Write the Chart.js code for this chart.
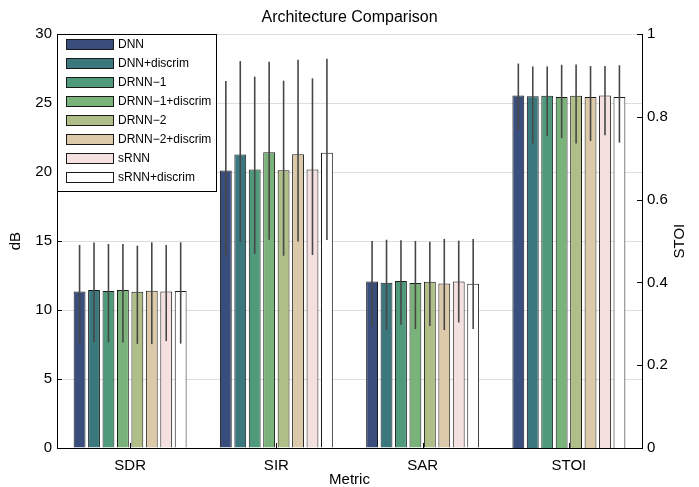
<!DOCTYPE html>
<html lang="en">
<head>
<meta charset="UTF-8">
<title>Architecture Comparison</title>
<script src="https://cdn.jsdelivr.net/npm/chart.js@4.4.1/dist/chart.umd.min.js"></script>
<style>
  html, body { margin: 0; padding: 0; background: #fff; }
  #chart { display: block; }
</style>
</head>
<body>
<canvas id="chart" width="699" height="487"></canvas>
<script>
'use strict';

// ----------------------------------------------------------------
// Data
// ----------------------------------------------------------------
const categories = ['SDR', 'SIR', 'SAR', 'STOI'];
const series = ['DNN', 'DNN+discrim', 'DRNN−1', 'DRNN−1+discrim',
                'DRNN−2', 'DRNN−2+discrim', 'sRNN', 'sRNN+discrim'];
const seriesColors = ['#394e7c', '#3b787e', '#4e9a7b', '#7ab37a',
                      '#afbf87', '#dbc9a9', '#f4e0de', '#ffffff'];

const dbTicks = [0, 5, 10, 15, 20, 25, 30];
const stoiTicks = [0, 0.2, 0.4, 0.6, 0.8, 1];
const stoiTickLabels = ['0', '0.2', '0.4', '0.6', '0.8', '1'];

// one value per series, in the order of `series`
const sdrMean = [11.35, 11.45, 11.38, 11.45, 11.33, 11.40, 11.35, 11.38];
const sdrLo   = [7.60, 7.65, 7.65, 7.65, 7.55, 7.53, 7.75, 7.57];
const sdrHi   = [14.72, 14.89, 14.79, 14.79, 14.67, 14.91, 14.72, 14.91];

const sirMean = [20.12, 21.28, 20.19, 21.45, 20.14, 21.30, 20.19, 21.40];
const sirLo   = [13.89, 14.94, 14.07, 15.10, 13.94, 14.98, 13.99, 15.08];
const sirHi   = [26.60, 28.05, 26.92, 28.00, 26.63, 28.15, 26.80, 28.22];

const sarMean = [12.08, 11.98, 12.10, 11.96, 12.06, 11.93, 12.08, 11.91];
const sarLo   = [8.81, 8.57, 8.93, 8.62, 8.84, 8.55, 9.10, 8.62];
const sarHi   = [15.01, 15.10, 15.06, 15.01, 14.96, 15.16, 15.03, 15.16];

const stoiMean = [0.852, 0.850, 0.851, 0.848, 0.851, 0.848, 0.852, 0.848];
const stoiLo   = [0.768, 0.736, 0.754, 0.749, 0.736, 0.742, 0.756, 0.738];
const stoiHi   = [0.929, 0.922, 0.922, 0.926, 0.927, 0.923, 0.923, 0.925];

const FONT = '"Liberation Sans", Arial, Helvetica, sans-serif';

// ----------------------------------------------------------------
// Datasets: dB metrics on the left axis, STOI on the right one.
// Both halves of a series share a stack so they share one slot.
// ----------------------------------------------------------------
const datasets = [];
series.forEach((name, i) => {
  const common = {
    label: name,
    stack: 's' + i,
    backgroundColor: seriesColors[i],
    borderColor: '#1a1a1a',
    borderWidth: ctx => (ctx.raw == null ? 0 : 1),
    borderSkipped: 'start',
    categoryPercentage: 0.79,
    barPercentage: 0.82
  };
  datasets.push(Object.assign({}, common, {
    yAxisID: 'y',
    data: [sdrMean[i], sirMean[i], sarMean[i], null],
    errLo: [sdrLo[i], sirLo[i], sarLo[i], null],
    errHi: [sdrHi[i], sirHi[i], sarHi[i], null]
  }));
  datasets.push(Object.assign({}, common, {
    yAxisID: 'y1',
    data: [null, null, null, stoiMean[i]],
    errLo: [null, null, null, stoiLo[i]],
    errHi: [null, null, null, stoiHi[i]]
  }));
});

// ----------------------------------------------------------------
// Plugins
// ----------------------------------------------------------------
const errorBars = {
  id: 'errorBars',
  afterDatasetsDraw(chart) {
    const { ctx } = chart;
    ctx.save();
    ctx.strokeStyle = '#474747';
    ctx.lineWidth = 1.6;
    chart.data.datasets.forEach((ds, d) => {
      const meta = chart.getDatasetMeta(d);
      const scale = chart.scales[ds.yAxisID];
      meta.data.forEach((el, j) => {
        if (ds.data[j] == null) return;
        const x = el.x;
        ctx.beginPath();
        ctx.moveTo(x, scale.getPixelForValue(ds.errLo[j]));
        ctx.lineTo(x, scale.getPixelForValue(ds.errHi[j]));
        ctx.stroke();
      });
    });
    ctx.restore();
  }
};

const innerTicks = {
  id: 'innerTicks',
  afterDraw(chart) {
    const { ctx, chartArea: a, scales } = chart;
    ctx.save();
    ctx.strokeStyle = '#000';
    ctx.lineWidth = 1;
    ctx.beginPath();
    scales.y.ticks.forEach(t => {
      const py = Math.round(scales.y.getPixelForValue(t.value)) + 0.5;
      ctx.moveTo(a.left, py); ctx.lineTo(a.left + 5, py);
    });
    scales.y1.ticks.forEach(t => {
      const py = Math.round(scales.y1.getPixelForValue(t.value)) + 0.5;
      ctx.moveTo(a.right - 5, py); ctx.lineTo(a.right, py);
    });
    categories.forEach((c, i) => {
      const px = Math.round(scales.x.getPixelForValue(i)) + 0.5;
      ctx.moveTo(px, a.bottom); ctx.lineTo(px, a.bottom - 5);
    });
    ctx.stroke();

    // right axis title, reading bottom to top
    ctx.fillStyle = '#000';
    ctx.font = '15px ' + FONT;
    ctx.textAlign = 'center';
    ctx.textBaseline = 'middle';
    ctx.translate(680, (a.top + a.bottom) / 2);
    ctx.rotate(-Math.PI / 2);
    ctx.fillText('STOI', 0, 0);
    ctx.restore();
  }
};

const legendBox = {
  id: 'legendBox',
  afterDraw(chart) {
    const { ctx, chartArea: a } = chart;
    const x0 = Math.round(a.left), y0 = Math.round(a.top);
    ctx.save();
    ctx.fillStyle = '#fff';
    ctx.fillRect(x0, y0, 159, 157);
    ctx.strokeStyle = '#000';
    ctx.lineWidth = 1;
    ctx.strokeRect(x0 + 0.5, y0 + 0.5, 159, 157);
    ctx.font = '12px ' + FONT;
    ctx.textBaseline = 'middle';
    series.forEach((name, i) => {
      const sy = y0 + 5 + i * 19;
      ctx.fillStyle = seriesColors[i];
      ctx.fillRect(x0 + 9, sy, 47, 10);
      ctx.strokeStyle = '#1a1a1a';
      ctx.strokeRect(x0 + 9.5, sy + 0.5, 47, 10);
      ctx.fillStyle = '#000';
      ctx.fillText(name, x0 + 61, sy + 6);
    });
    ctx.restore();
  }
};

// ----------------------------------------------------------------
// Chart
// ----------------------------------------------------------------
new Chart(document.getElementById('chart'), {
  type: 'bar',
  data: { labels: categories, datasets },
  options: {
    responsive: false,
    animation: false,
    devicePixelRatio: 1,
    layout: { padding: 0 },
    plugins: {
      legend: { display: false },
      tooltip: { enabled: false },
      title: {
        display: true,
        text: 'Architecture Comparison',
        color: '#000',
        font: { family: FONT, size: 16, weight: 'normal' },
        padding: { top: 8, bottom: 7 }
      }
    },
    scales: {
      x: {
        grid: { display: false, drawTicks: false },
        border: { color: '#000', width: 1 },
        ticks: { color: '#000', font: { family: FONT, size: 15 }, padding: 9 },
        title: {
          display: true, text: 'Metric', color: '#000',
          font: { family: FONT, size: 15, lineHeight: 1 },
          padding: { top: 0, bottom: 0 }
        },
        afterFit: s => { s.height = 39; }
      },
      y: {
        position: 'left',
        stacked: false,
        min: 0, max: 30,
        afterBuildTicks: s => { s.ticks = dbTicks.map(v => ({ value: v })); },
        grid: { color: '#dedede', lineWidth: 1, drawTicks: false },
        border: { color: '#000', width: 1 },
        ticks: { color: '#000', font: { family: FONT, size: 15 }, padding: 5 },
        title: {
          display: true, text: 'dB', color: '#000',
          font: { family: FONT, size: 15, lineHeight: 1 },
          padding: { top: 8, bottom: 0 }
        },
        afterFit: s => { s.width = 57; }
      },
      y1: {
        position: 'right',
        stacked: false,
        min: 0, max: 1,
        afterBuildTicks: s => { s.ticks = stoiTicks.map(v => ({ value: v })); },
        grid: { display: false, drawTicks: false },
        border: { color: '#000', width: 1 },
        ticks: {
          color: '#000', font: { family: FONT, size: 15 }, padding: 5,
          callback: (v, i) => stoiTickLabels[i]
        },
        afterFit: s => { s.width = 57; }
      }
    }
  },
  plugins: [errorBars, innerTicks, legendBox]
});
</script>
</body>
</html>
